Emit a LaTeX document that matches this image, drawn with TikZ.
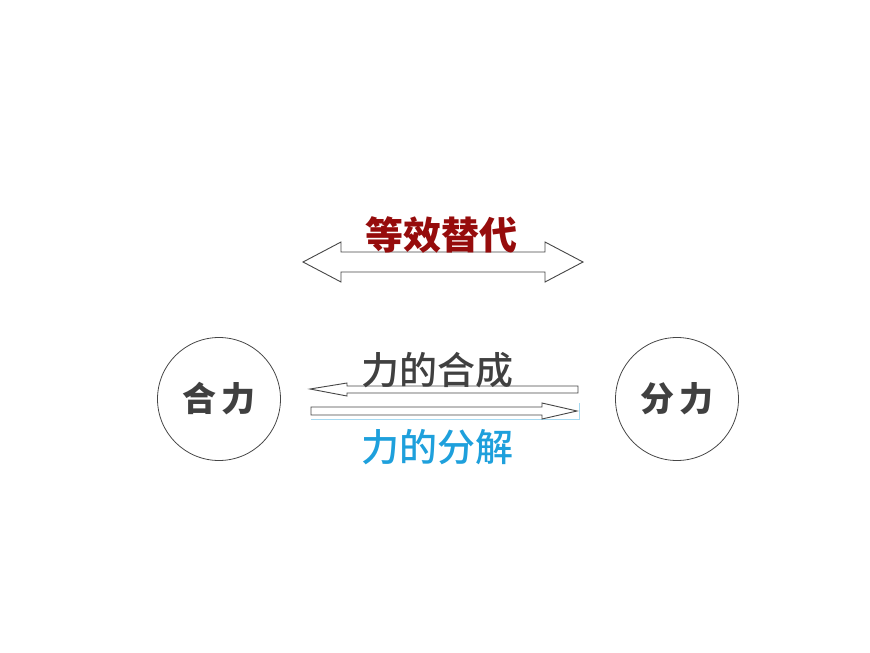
\documentclass[tikz,border=0pt]{standalone}
\usepackage{fontspec}
\setmainfont{Noto Sans CJK SC}
\newfontfamily\cjkmed{Noto Sans CJK SC Medium}
\usetikzlibrary{positioning}
\definecolor{darkred}{RGB}{150,12,12}
\definecolor{gristxt}{RGB}{64,64,64}
\definecolor{azul}{RGB}{30,160,220}
\definecolor{borde}{RGB}{70,70,70}

\begin{document}
\begin{tikzpicture}[x=1pt,y=-1pt,line join=miter]
	\tikzstyle{bloque}=[draw=borde,fill=white,line width=0.9pt]
	\tikzstyle{fuerza}=[circle,draw=borde,line width=0.8pt,minimum size=123pt,
	                    font=\fontsize{34}{34}\selectfont\bfseries,text=gristxt]
	\tikzstyle{etiqueta}=[font=\fontsize{38}{38}\selectfont\cjkmed,inner sep=0pt]
	\useasboundingbox (0,0) rectangle (870,653);

	\node[fuerza] (R) at (219,399) {合\hspace{5pt}力};
	\node[fuerza] (F) at (677,399) {分\hspace{5pt}力};

	% equivalencia
	\draw[bloque] (303,262) -- (341,242) -- (341,252) -- (545,252) -- (545,242)
	  -- (583,262) -- (545,282) -- (545,272) -- (341,272) -- (341,282) -- cycle;
	\node[etiqueta,text=darkred,font=\fontsize{38}{38}\selectfont\bfseries] (eq) at (441,235) {等效替代};

	% composicion
	\draw[bloque] (310,389) -- (347,383) -- (347,386) -- (578,386) -- (578,393)
	  -- (347,393) -- (347,396) -- cycle;
	\node[etiqueta,text=gristxt] (comp) at (437,370) {力的合成};

	% descomposicion
	\draw[azul!40,line width=0.6pt] (311,419) -- (579,419) -- (579,403);
	\draw[bloque] (311,407) -- (542,407) -- (542,403) -- (577,411) -- (542,419)
	  -- (542,415) -- (311,415) -- cycle;
	\node[etiqueta,text=azul] (desc) at (437,447) {力的分解};
\end{tikzpicture}
\end{document}
